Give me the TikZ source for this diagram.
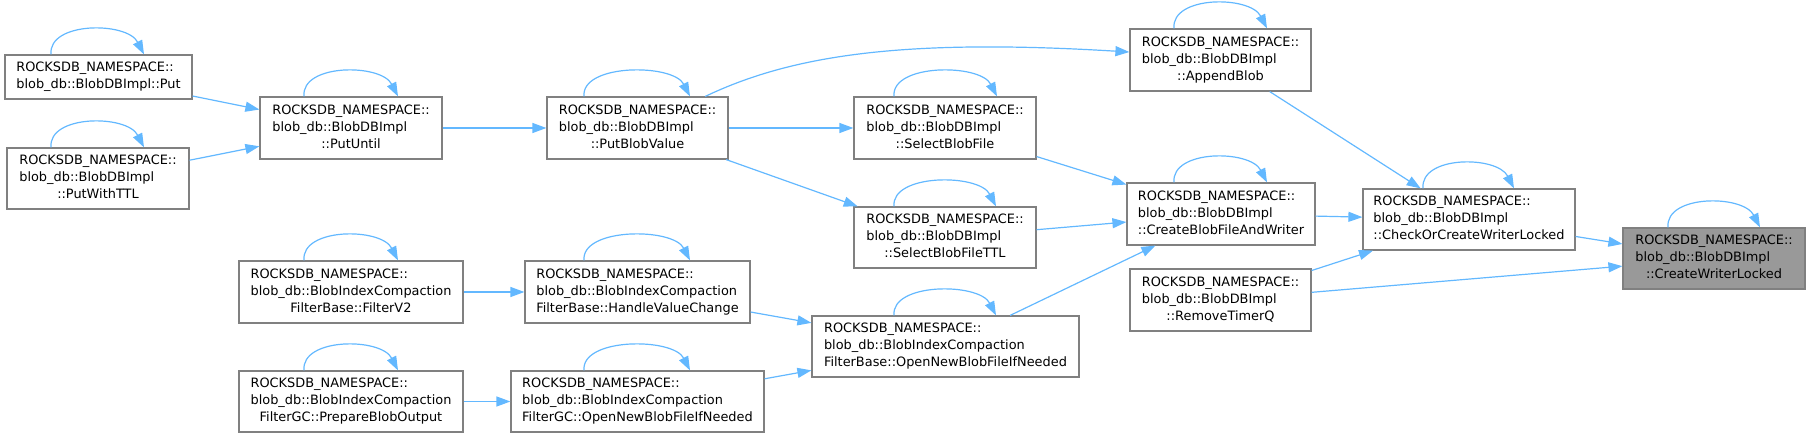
\documentclass[tikz,border=0pt]{standalone}
\usepackage{fontspec}
\setmainfont{DejaVu Sans}
\usetikzlibrary{arrows.meta}
\definecolor{edgec}{HTML}{63B8FF}
\definecolor{boxc}{HTML}{808080}
\definecolor{hlc}{HTML}{999999}
\newcommand{\fnlabel}[3]{\begin{tabular}{@{}l@{}}#1\\#2\\\multicolumn{1}{@{}c@{}}{#3}\end{tabular}}
\newcommand{\fnlabeltwo}[2]{\begin{tabular}{@{}l@{}}#1\\\multicolumn{1}{@{}c@{}}{#2}\end{tabular}}
\newcommand{\selfloop}[3]{\draw[edge] ([xshift=#2pt]#1.north) .. controls ([xshift=#2pt-3pt,yshift=33pt]#1.north) and ([xshift=#3pt-17pt,yshift=33pt]#1.north) .. ([xshift=#3pt]#1.north);}
\begin{document}
\begin{tikzpicture}[x=1pt,y=-1pt,
  font=\fontsize{12.9}{17}\selectfont,
  fn/.style={draw=boxc, line width=1.2pt, fill=white, inner sep=0pt, align=center},
  hl/.style={fn, fill=hlc},
  edge/.style={draw=edgec, line width=1.2pt, -{Triangle[length=14pt,width=10pt]}}]
\useasboundingbox (0,0) rectangle (1810,438);
% nodes
\node[fn, minimum width=187pt, minimum height=44pt] (put) at (98.5,77) {\fnlabeltwo{ROCKSDB\_NAMESPACE::}{blob\_db::BlobDBImpl::Put}};
\node[fn, minimum width=182pt, minimum height=61pt] (putttl) at (98,178.5) {\fnlabel{ROCKSDB\_NAMESPACE::}{blob\_db::BlobDBImpl}{::PutWithTTL}};
\node[fn, minimum width=182pt, minimum height=62pt] (putuntil) at (351,128) {\fnlabel{ROCKSDB\_NAMESPACE::}{blob\_db::BlobDBImpl}{::PutUntil}};
\node[fn, minimum width=224pt, minimum height=62pt] (filterv2) at (351,292) {\fnlabel{ROCKSDB\_NAMESPACE::}{blob\_db::BlobIndexCompaction}{FilterBase::FilterV2}};
\node[fn, minimum width=224pt, minimum height=61pt] (prepare) at (351,401.5) {\fnlabel{ROCKSDB\_NAMESPACE::}{blob\_db::BlobIndexCompaction}{FilterGC::PrepareBlobOutput}};
\node[fn, minimum width=181pt, minimum height=62pt] (putblob) at (637.5,128) {\fnlabel{ROCKSDB\_NAMESPACE::}{blob\_db::BlobDBImpl}{::PutBlobValue}};
\node[fn, minimum width=225pt, minimum height=62pt] (handle) at (637.5,292) {\fnlabel{ROCKSDB\_NAMESPACE::}{blob\_db::BlobIndexCompaction}{FilterBase::HandleValueChange}};
\node[fn, minimum width=253pt, minimum height=61pt] (gcopen) at (637.5,401.5) {\fnlabel{ROCKSDB\_NAMESPACE::}{blob\_db::BlobIndexCompaction}{FilterGC::OpenNewBlobFileIfNeeded}};
\node[fn, minimum width=182pt, minimum height=62pt] (selfile) at (945,128) {\fnlabel{ROCKSDB\_NAMESPACE::}{blob\_db::BlobDBImpl}{::SelectBlobFile}};
\node[fn, minimum width=182pt, minimum height=61pt] (selttl) at (945,237.5) {\fnlabel{ROCKSDB\_NAMESPACE::}{blob\_db::BlobDBImpl}{::SelectBlobFileTTL}};
\node[fn, minimum width=267pt, minimum height=61pt] (baseopen) at (945.5,346.5) {\fnlabel{ROCKSDB\_NAMESPACE::}{blob\_db::BlobIndexCompaction}{FilterBase::OpenNewBlobFileIfNeeded}};
\node[fn, minimum width=181pt, minimum height=62pt] (append) at (1220.5,60) {\fnlabel{ROCKSDB\_NAMESPACE::}{blob\_db::BlobDBImpl}{::AppendBlob}};
\node[fn, minimum width=188pt, minimum height=62pt] (createblob) at (1221,214) {\fnlabel{ROCKSDB\_NAMESPACE::}{blob\_db::BlobDBImpl}{::CreateBlobFileAndWriter}};
\node[fn, minimum width=181pt, minimum height=62pt] (removetimer) at (1220.5,300) {\fnlabel{ROCKSDB\_NAMESPACE::}{blob\_db::BlobDBImpl}{::RemoveTimerQ}};
\node[fn, minimum width=212pt, minimum height=61pt] (checkor) at (1469,219.5) {\fnlabel{ROCKSDB\_NAMESPACE::}{blob\_db::BlobDBImpl}{::CheckOrCreateWriterLocked}};
\node[hl, minimum width=182pt, minimum height=61pt] (createwriter) at (1714,258.5) {\fnlabel{ROCKSDB\_NAMESPACE::}{blob\_db::BlobDBImpl}{::CreateWriterLocked}};
% self loops
\selfloop{put}{-47.5}{45.5}
\selfloop{putttl}{-47}{46}
\selfloop{putuntil}{-47}{47}
\selfloop{putblob}{-53.5}{52.5}
\selfloop{filterv2}{-47}{47}
\selfloop{prepare}{-47}{47}
\selfloop{handle}{-53.5}{52.5}
\selfloop{gcopen}{-53.5}{52.5}
\selfloop{selfile}{-51}{52}
\selfloop{selttl}{-51}{51}
\selfloop{baseopen}{-51.5}{50.5}
\selfloop{append}{-46.5}{46.5}
\selfloop{createblob}{-47}{46}
\selfloop{checkor}{-46}{45}
\selfloop{createwriter}{-46}{46}
% edges
\draw[edge] (put) -- (putuntil);
\draw[edge] (putttl) -- (putuntil);
\draw[edge] (putuntil) -- (putblob);
\draw[edge] (putblob) -- (selfile);
\draw[edge] (putblob) -- (selttl);
\draw[edge] (putblob.25) .. controls (790,56) and (900,38) .. (append.175);
\draw[edge] (selfile) -- (createblob);
\draw[edge] (selttl) -- (createblob);
\draw[edge] (baseopen) -- (createblob);
\draw[edge] (append) -- (checkor);
\draw[edge] (createblob) -- (checkor);
\draw[edge] (removetimer) -- (checkor);
\draw[edge] (checkor) -- (createwriter);
\draw[edge] (removetimer) -- (createwriter);
\draw[edge] (filterv2) -- (handle);
\draw[edge] (prepare) -- (gcopen);
\draw[edge] (handle) -- (baseopen);
\draw[edge] (gcopen) -- (baseopen);
\end{tikzpicture}
\end{document}
